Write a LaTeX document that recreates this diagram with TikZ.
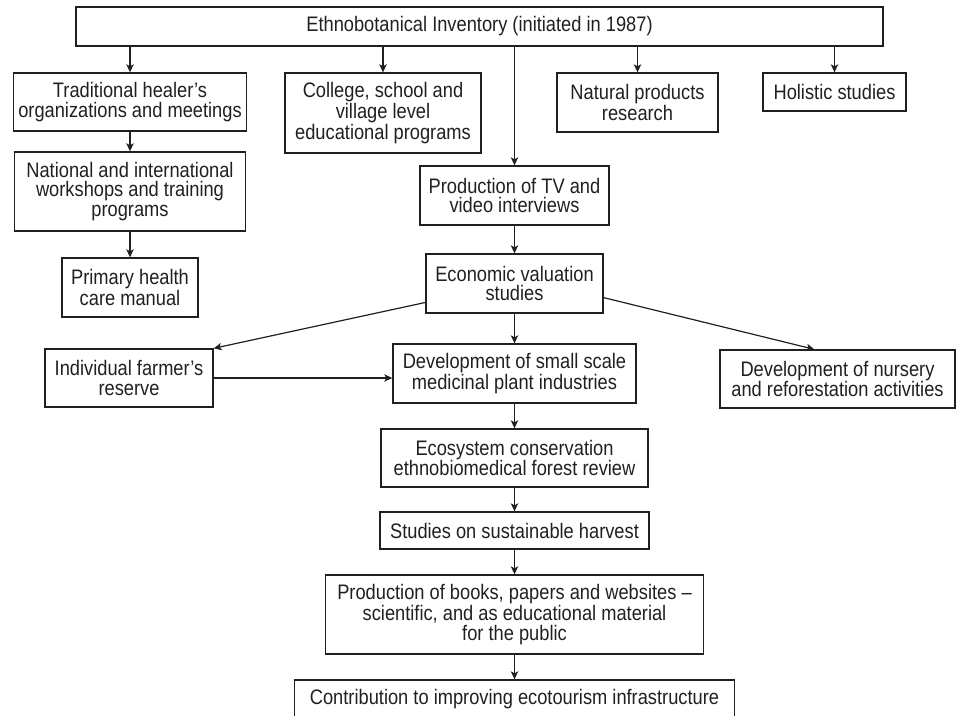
\documentclass[tikz,border=0pt]{standalone}
\usepackage{fontspec}
\setmainfont{Liberation Sans}[FakeStretch=0.87]
\usetikzlibrary{arrows.meta,calc}
\definecolor{ink}{RGB}{35,31,32}
\tikzset{%
  block/.style={draw=ink, rectangle, line width=1pt, align=center, text=ink,
    font=\fontsize{15.75}{14.5}\selectfont, inner sep=0pt},% one box of the chart
  flow/.style={draw=ink, line width=0.9pt,
    -{Stealth[length=6pt, width=5.5pt, inset=1.5pt]}}% arrow between boxes
}

\begin{document}
\begin{tikzpicture}[x=0.75pt, y=-0.75pt]
\useasboundingbox (0,0) rectangle (957,715);
\clip (0,0) rectangle (957,715);

\node[block, minimum width=605.25pt, minimum height=29.25pt] (inv) at (479.5,26.5) {Ethnobotanical Inventory (initiated in 1987)};
\node[block, minimum width=174.75pt, minimum height=43.5pt] (trad) at (130,102) {Traditional healer’s\\organizations and meetings};
\node[block, minimum width=147pt, minimum height=60pt] (col) at (383,113) {College, school and\\village level\\educational programs};
\node[block, minimum width=141.75pt, minimum height=44.25pt] (tv) at (514.5,195.5) {Production of TV and\\video interviews};
\node[block, minimum width=120.75pt, minimum height=44.25pt] (nat) at (637.5,102.5) {Natural products\\research};
\node[block, minimum width=107.25pt, minimum height=28.5pt] (hol) at (834.5,92) {Holistic studies};
\node[block, minimum width=173.25pt, minimum height=59.25pt] (work) at (130,191.5) {National and international\\workshops and training\\programs};
\node[block, minimum width=102pt, minimum height=44.25pt] (prim) at (130,287.5) {Primary health\\care manual};
\node[block, minimum width=132.75pt, minimum height=44.25pt] (econ) at (514.5,283.5) {Economic valuation\\studies};
\node[block, minimum width=126pt, minimum height=43.5pt] (ind) at (129,378) {Individual farmer’s\\reserve};
\node[block, minimum width=182.25pt, minimum height=44.25pt] (dev) at (514.5,373.5) {Development of small scale\\medicinal plant industries};
\node[block, minimum width=176.25pt, minimum height=43.5pt] (nur) at (837.5,379) {Development of nursery\\and reforestation activities};
\node[block, minimum width=200.25pt, minimum height=43.5pt] (eco) at (514.5,458) {Ecosystem conservation\\ethnobiomedical forest review};
\node[block, minimum width=201.75pt, minimum height=27.75pt] (stud) at (514.5,530.5) {Studies on sustainable harvest};
\node[block, minimum width=283.5pt, minimum height=59.25pt] (book) at (514.5,614.5) {Production of books, papers and websites –\\scientific, and as educational material\\for the public};
\node[block, minimum width=330pt, minimum height=28.5pt] (con) at (514.5,699) {Contribution to improving ecotourism infrastructure};

% from the inventory
\draw (inv.south -| trad.north) edge[flow] (trad.north);
\draw (inv.south -| col.north) edge[flow] (col.north);
\draw (inv.south -| tv.north) edge[flow] (tv.north);
\draw (inv.south -| nat.north) edge[flow] (nat.north);
\draw (inv.south -| hol.north) edge[flow] (hol.north);
% left column
\draw (trad) edge[flow] (work);
\draw (work) edge[flow] (prim);
% main column
\draw (tv) edge[flow] (econ);
\draw (econ) edge[flow] (dev);
\draw (econ.192) edge[flow] (ind.north east);
\draw (econ.-9) edge[flow] (nur.128);
\draw (ind.east) edge[flow] (ind.east -| dev.west);
\draw (dev) edge[flow] (eco);
\draw (eco) edge[flow] (stud);
\draw (stud) edge[flow] (book);
\draw (book) edge[flow] (con);
\end{tikzpicture}
\end{document}
